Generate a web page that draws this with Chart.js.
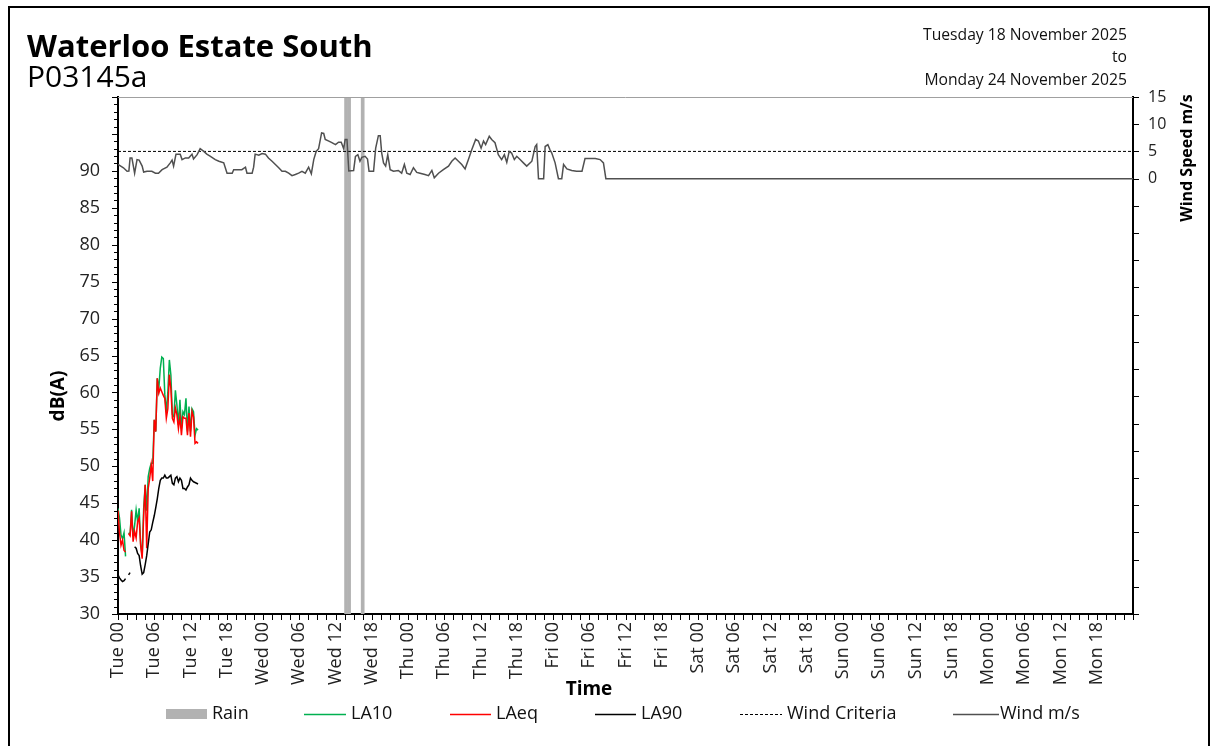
<!DOCTYPE html>
<html lang="en">
<head>
<meta charset="utf-8">
<title>Waterloo Estate South – P03145a</title>
<script src="https://cdn.jsdelivr.net/npm/chart.js@4.4.1/dist/chart.umd.min.js"></script>
<style>
  html, body { margin: 0; padding: 0; background: #fff; }
  #page { position: relative; width: 1214px; height: 746px; overflow: hidden; }
  #chart { position: absolute; left: 0; top: 0; }
  #frame { position: absolute; left: 8px; top: 6px; width: 1202px; height: 800px;
           border: 2px solid #000; box-sizing: border-box; pointer-events: none; }
</style>
</head>
<body>
<div id="page">
  <canvas id="chart" width="1214" height="746"></canvas>
  <div id="frame"></div>
</div>
<script>
// ---- Report header ----
const siteName = 'Waterloo Estate South';
const siteCode = 'P03145a';
const periodFrom = 'Tuesday 18 November 2025';
const periodTo = 'Monday 24 November 2025';

// Day names for the time axis (hours counted from Tue 00:00)
const dayNames = ['Tue', 'Wed', 'Thu', 'Fri', 'Sat', 'Sun', 'Mon'];

// ---- Noise levels, 15-minute periods (hours after Tue 00:00) ----
const noiseHours = [0, 0.25, 0.5, 0.75, 1, 1.25, 1.5, 1.75, 2, 2.25, 2.5, 2.75, 3, 3.25, 3.5, 3.75,
  4, 4.25, 4.5, 4.75, 5, 5.25, 5.5, 5.75, 6, 6.25, 6.5, 6.75, 7, 7.25, 7.5, 7.75,
  8, 8.25, 8.5, 8.75, 9, 9.25, 9.5, 9.75, 10, 10.25, 10.5, 10.75, 11, 11.25, 11.5, 11.75,
  12, 12.25, 12.5, 12.75, 13, 13.25];

const la10 = [44.3, 43.0, 40.7, 40.2, 41.0, 37.8, null, 41.0, 40.8, 44.1, 40.5, 42.0, 44.1, 42.5, 44.3, 39.5,
  37.8, 44.3, 47.5, 44.0, 48.6, 49.7, 50.4, 50.4, 56.3, 54.7, 61.9, 60.5, 63.3, 64.8, 64.6, 59.7,
  57.4, 60.0, 64.4, 62.4, 57.0, 56.7, 60.3, 58.3, 55.6, 59.0, 55.1, 57.4, 57.0, 59.2, 54.7, 58.1,
  54.7, 57.8, 57.4, 54.2, 55.1, 54.9];

const laeq = [44.0, 41.0, 39.3, 40.0, 38.6, 38.4, null, 40.9, 40.6, 43.9, 39.8, 41.2, 40.3, 42.5, 43.0, 39.3,
  37.5, 43.4, 47.5, 38.9, 47.0, 48.4, 50.2, 48.0, 56.3, 54.7, 61.9, 59.9, 60.6, 60.1, 59.6, 59.2,
  56.5, 57.8, 62.4, 60.5, 56.5, 56.0, 57.9, 57.0, 55.1, 56.7, 54.2, 56.7, 56.5, 56.5, 54.2, 57.2,
  54.0, 57.4, 56.7, 53.1, 53.3, 53.1];

const la90 = [35.3, 34.9, 34.6, 34.4, 34.5, 34.8, null, 35.3, 35.6, null, null, 39.1, 38.9, 38.2, 37.9, 36.5,
  35.4, 35.6, 36.7, 37.9, 39.5, 41.1, 41.4, 42.4, 43.3, 44.4, 45.6, 47.0, 48.1, 48.4, 48.4, 48.8,
  48.4, 48.4, 48.6, 48.8, 47.7, 47.5, 48.4, 48.6, 47.9, 48.4, 48.1, 47.0, 47.0, 46.8, 47.2, 47.5,
  48.4, 48.1, 47.9, 47.8, 47.7, 47.6];

// ---- Weather station ----
const windHours = [0, 0.9, 1.5, 1.8, 2.0, 2.3, 2.75, 3.15, 3.5, 4.0, 4.25, 4.8, 5.6, 6.2, 6.7, 7.3,
  8.1, 8.65, 8.95, 9.2, 9.6, 10.3, 10.6, 11.15, 11.7, 12.25, 12.5, 13.1, 13.6, 14.2, 14.7, 15.3,
  16.1, 16.7, 17.5, 18.05, 18.9, 19.15, 20.0, 20.5, 21.1, 21.35, 22.2, 22.45, 22.7, 23.3, 23.85, 24.4,
  24.9, 25.5, 26.05, 26.6, 27.15, 27.7, 28.25, 28.8, 29.35, 29.9, 30.45, 31.0, 31.55, 32.0, 32.4, 32.8,
  33.2, 33.7, 34.05, 34.3, 34.9, 35.4, 36.0, 36.5, 36.95, 37.35, 37.6, 37.9, 38.2, 39.0, 39.3, 39.7,
  40.05, 40.35, 40.9, 41.3, 41.55, 42.3, 42.65, 43.1, 43.4, 43.65, 43.95, 44.3, 44.65, 45.05, 45.6, 46.4,
  46.95, 47.4, 47.8, 48.35, 48.9, 49.45, 50.0, 50.8, 51.4, 51.95, 52.35, 53.05, 53.85, 54.7, 55.25, 55.8,
  56.35, 56.9, 57.45, 58.0, 58.55, 59.2, 59.65, 60.1, 60.5, 60.85, 61.45, 61.85, 62.4, 62.95, 63.5, 63.95,
  64.35, 64.75, 65.15, 65.6, 66.0, 66.55, 67.1, 67.65, 68.5, 69.05, 69.3, 69.6, 70.45, 70.7, 71.15, 71.5,
  71.8, 72.35, 72.9, 73.45, 73.75, 74.3, 75.1, 75.9, 76.8, 77.3, 77.9, 79.0, 79.8, 80.35, 80.75, 168];

const windSpeed = [2.6, 2.0, 1.35, 1.4, 3.8, 3.8, 1.0, 3.5, 3.4, 2.3, 1.2, 1.35, 1.35, 1.0, 1.0, 1.65,
  2.1, 2.9, 3.4, 2.3, 4.5, 4.5, 3.5, 3.8, 3.8, 4.5, 3.6, 4.4, 5.5, 5.0, 4.5, 4.1,
  3.5, 3.2, 2.9, 1.0, 1.0, 1.65, 1.65, 1.65, 2.1, 1.0, 1.0, 2.1, 4.5, 4.3, 4.6, 4.5,
  3.8, 3.2, 2.6, 2.0, 1.35, 1.35, 1.0, 0.55, 0.75, 1.0, 1.35, 1.0, 2.1, 0.9, 3.5, 5.0,
  5.5, 8.4, 8.3, 7.2, 6.9, 6.6, 6.25, 6.7, 6.7, 5.5, 7.2, 7.2, 1.4, 1.5, 4.1, 4.4,
  3.2, 3.9, 4.1, 3.6, 1.35, 1.35, 5.6, 7.9, 7.9, 4.7, 2.9, 2.3, 4.4, 1.65, 1.35, 1.5,
  1.0, 2.6, 1.0, 0.75, 2.0, 1.15, 1.0, 0.75, 0.55, 1.5, 0.15, 1.0, 1.65, 2.3, 3.2, 3.8,
  3.2, 2.6, 1.8, 3.5, 5.3, 7.2, 6.9, 5.6, 6.9, 6.25, 7.8, 7.2, 6.6, 4.4, 3.5, 4.4,
  3.0, 5.0, 4.7, 3.5, 4.1, 3.5, 2.9, 2.3, 3.2, 5.9, 6.25, 0, 0, 5.9, 6.25, 5.3,
  4.7, 2.9, 0, 0, 2.6, 1.8, 1.5, 1.35, 1.35, 3.7, 3.7, 3.7, 3.5, 2.9, 0, 0];

const windCriteriaHours = [0, 168];
const windCriteria = [5, 5];

// Mid-points of the 15-minute periods with rain
const rainHours = [37.625, 37.875, 38.125, 38.375, 40.375, 40.625];
const rainFlag = [1, 1, 1, 1, 1, 1];

const toPoints = (xs, ys) => xs.map((x, i) => ({ x: x, y: ys[i] }));

const FONT = '"Open Sans", "Noto Sans", sans-serif';
Chart.defaults.font.family = FONT;

// Small tick marks on all three axes plus the light top edge
const axisMarks = {
  id: 'axisMarks',
  afterDraw(chart) {
    const { ctx, chartArea: a, scales } = chart;
    const x = scales.x, y = scales.y, y2 = scales.y2;
    ctx.save();
    ctx.strokeStyle = '#a0a0a0';
    ctx.lineWidth = 1;
    ctx.beginPath();
    ctx.moveTo(a.left, a.top + 0.5);
    ctx.lineTo(a.right, a.top + 0.5);
    ctx.stroke();

    ctx.strokeStyle = '#000';
    ctx.lineWidth = 1;
    ctx.beginPath();
    for (let v = y.min; v <= y.max; v += 1) {
      const py = Math.round(y.getPixelForValue(v)) + 0.5;
      const len = v % 5 === 0 ? 6 : 4;
      ctx.moveTo(a.left - len, py);
      ctx.lineTo(a.left, py);
    }
    for (let v = y2.min; v <= y2.max; v += 5) {
      const py = Math.round(y2.getPixelForValue(v)) + 0.5;
      ctx.moveTo(a.right, py);
      ctx.lineTo(a.right + 6, py);
    }
    for (let h = x.min; h <= x.max; h += 1.5) {
      const px = Math.round(x.getPixelForValue(h)) + 0.5;
      ctx.moveTo(px, a.bottom);
      ctx.lineTo(px, a.bottom + 6);
    }
    ctx.stroke();
    ctx.restore();
  }
};

// Header, axis titles and the legend row
const legendSlots = [
  { x: 166, w: 41, tx: 212 },
  { x: 304, w: 42, tx: 351 },
  { x: 450, w: 41, tx: 496 },
  { x: 595, w: 41, tx: 641 },
  { x: 740, w: 42, tx: 787 },
  { x: 953, w: 46, tx: 1000 }
];

const pageText = {
  id: 'pageText',
  afterDraw(chart) {
    const ctx = chart.ctx;
    ctx.save();
    ctx.fillStyle = '#000';
    ctx.textBaseline = 'alphabetic';

    ctx.textAlign = 'left';
    ctx.font = 'bold 31px ' + FONT;
    ctx.fillText(siteName, 27, 57);
    ctx.font = '30px ' + FONT;
    ctx.fillText(siteCode, 27, 87);

    ctx.textAlign = 'right';
    ctx.font = '15.7px ' + FONT;
    ctx.fillStyle = '#111';
    ctx.fillText(periodFrom, 1127, 40);
    ctx.fillText('to', 1127, 62);
    ctx.fillText(periodTo, 1127, 85);

    // axis titles
    ctx.fillStyle = '#000';
    ctx.textAlign = 'center';
    ctx.textBaseline = 'middle';
    ctx.font = 'bold 19px ' + FONT;
    ctx.save();
    ctx.translate(59, 396);
    ctx.rotate(-Math.PI / 2);
    ctx.fillText('dB(A)', 0, 0);
    ctx.restore();

    ctx.font = 'bold 16px ' + FONT;
    ctx.save();
    ctx.translate(1187, 158);
    ctx.rotate(-Math.PI / 2);
    ctx.fillText('Wind Speed m/s', 0, 0);
    ctx.restore();

    ctx.font = 'bold 19px ' + FONT;
    ctx.textBaseline = 'alphabetic';
    ctx.fillText('Time', 589, 695);

    // legend
    const cy = 714;
    ctx.textAlign = 'left';
    ctx.textBaseline = 'middle';
    ctx.font = '18px ' + FONT;
    chart.data.datasets.forEach((ds, i) => {
      const s = legendSlots[i];
      if (ds.type === 'bar') {
        ctx.fillStyle = ds.backgroundColor;
        ctx.fillRect(s.x, cy - 5, s.w, 10);
      } else {
        ctx.save();
        ctx.strokeStyle = ds.borderColor;
        ctx.lineWidth = ds.borderDash ? 1 : 1.5;
        ctx.setLineDash(ds.borderDash || []);
        ctx.beginPath();
        ctx.moveTo(s.x, cy + 0.5);
        ctx.lineTo(s.x + s.w, cy + 0.5);
        ctx.stroke();
        ctx.restore();
      }
      ctx.fillStyle = '#111';
      ctx.fillText(ds.label, s.tx, cy);
    });
    ctx.restore();
  }
};

const tickFont = { family: FONT, size: 18 };

new Chart(document.getElementById('chart'), {
  type: 'line',
  data: {
    datasets: [
      {
        type: 'bar', label: 'Rain', data: toPoints(rainHours, rainFlag),
        yAxisID: 'yRain', backgroundColor: '#b2b2b2', borderWidth: 0,
        barPercentage: 1, categoryPercentage: 1, order: 10
      },
      {
        label: 'LA10', data: toPoints(noiseHours, la10), yAxisID: 'y',
        borderColor: '#00b050', borderWidth: 1.5, pointRadius: 0, tension: 0, spanGaps: false, order: 4
      },
      {
        label: 'LAeq', data: toPoints(noiseHours, laeq), yAxisID: 'y',
        borderColor: '#ff0000', borderWidth: 1.5, pointRadius: 0, tension: 0, spanGaps: false, order: 3
      },
      {
        label: 'LA90', data: toPoints(noiseHours, la90), yAxisID: 'y',
        borderColor: '#000000', borderWidth: 1.5, pointRadius: 0, tension: 0, spanGaps: false, order: 2
      },
      {
        label: 'Wind Criteria', data: toPoints(windCriteriaHours, windCriteria), yAxisID: 'y2',
        borderColor: '#000000', borderWidth: 1, borderDash: [3, 2], pointRadius: 0, order: 1
      },
      {
        label: 'Wind m/s', data: toPoints(windHours, windSpeed), yAxisID: 'y2',
        borderColor: '#505050', borderWidth: 1.5, pointRadius: 0, tension: 0, order: 0
      }
    ]
  },
  options: {
    responsive: false,
    animation: false,
    devicePixelRatio: 1,
    layout: { padding: { top: 97, left: 0, right: 0, bottom: 0 } },
    plugins: { legend: { display: false }, tooltip: { enabled: false } },
    scales: {
      x: {
        type: 'linear', position: 'bottom', min: 0, max: 168, offset: false,
        grid: { display: false, drawTicks: false, tickLength: 0 },
        border: { display: true, color: '#000', width: 2 },
        ticks: {
          stepSize: 6, autoSkip: false, minRotation: 90, maxRotation: 90,
          padding: 8, color: '#222', font: tickFont,
          callback: v => v >= 168 ? '' : dayNames[Math.floor(v / 24)] + ' ' + String(v % 24).padStart(2, '0')
        },
        afterFit: s => { s.height = 132; }
      },
      y: {
        type: 'linear', position: 'left', min: 30, max: 100,
        grid: { display: false, drawTicks: false, tickLength: 0 },
        border: { display: true, color: '#000', width: 2 },
        ticks: {
          stepSize: 5, autoSkip: false, padding: 18, color: '#222', font: tickFont,
          callback: v => v <= 90 ? String(v) : ''
        },
        afterFit: s => { s.width = 118; }
      },
      y2: {
        type: 'linear', position: 'right', min: -80, max: 15,
        grid: { display: false, drawTicks: false, tickLength: 0 },
        border: { display: true, color: '#000', width: 2 },
        ticks: {
          stepSize: 5, autoSkip: false, padding: 15, color: '#222', font: { family: FONT, size: 16 },
          callback: v => v >= 0 ? String(v) : ''
        },
        afterFit: s => { s.width = 81; }
      },
      yRain: { type: 'linear', display: false, min: 0, max: 1 }
    }
  },
  plugins: [axisMarks, pageText]
});
</script>
</body>
</html>
